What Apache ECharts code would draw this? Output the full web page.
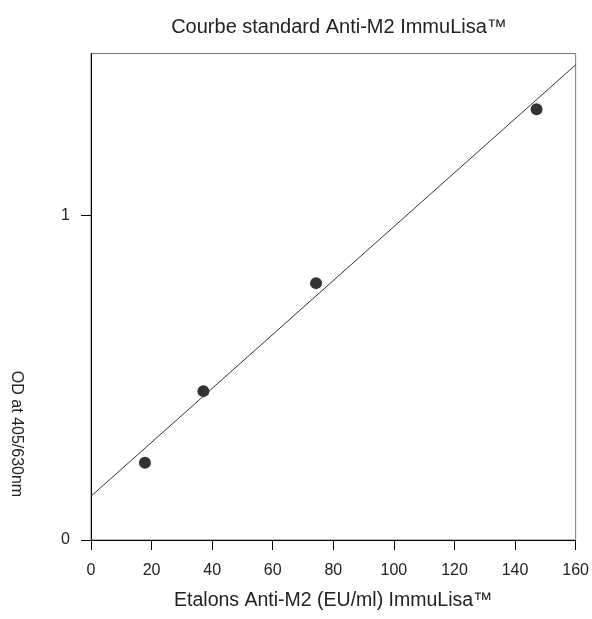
<!DOCTYPE html>
<html><head><meta charset="utf-8">
<script src="https://cdn.jsdelivr.net/npm/echarts@6/dist/echarts.min.js"></script>
<style>html,body{margin:0;padding:0;background:#fff}#c{width:592px;height:619px}</style>
</head><body><div id="c"></div>
<script>
const standardsX = [17.8, 37.1, 74.3, 147.1];
const odValues = [0.238, 0.459, 0.792, 1.328];
const fitX = [0, 160];
const fitY = [0.135, 1.465];
const xTicks = [0, 20, 40, 60, 80, 100, 120, 140, 160];
const yTicks = [0, 1];
const titleText = 'Courbe standard Anti-M2 ImmuLisa™';
const xName = 'Etalons Anti-M2 (EU/ml) ImmuLisa™';
const yName = 'OD at 405/630nm';

const font = 'Liberation Sans, Arial, sans-serif';
const chart = echarts.init(document.getElementById('c'));
chart.setOption({
  animation: false,
  title: { text: titleText, left: 334, top: 12, textAlign: 'center',
    textStyle: { fontFamily: font, fontSize: 20, fontWeight: 'normal', color: '#222' } },
  grid: { left: 91, right: 16, top: 53.5, bottom: 79, show: true, borderColor: '#777', borderWidth: 1, backgroundColor: 'transparent' },
  xAxis: {
    type: 'value', min: 0, max: 160, interval: 20,
    name: xName, nameLocation: 'middle', nameGap: 51,
    nameTextStyle: { fontFamily: font, fontSize: 19.5, color: '#222' },
    axisLine: { show: true, lineStyle: { color: '#000', width: 1 } },
    axisTick: { show: true, length: 10, inside: false, lineStyle: { color: '#000' }, customValues: xTicks },
    axisLabel: { fontFamily: font, fontSize: 16, color: '#222', margin: 23, customValues: xTicks },
    splitLine: { show: false }
  },
  yAxis: {
    type: 'value', min: 0, max: 1.5, interval: 1,
    axisLine: { show: true, lineStyle: { color: '#000', width: 1 } },
    axisTick: { show: true, length: 10, lineStyle: { color: '#000' }, customValues: yTicks },
    axisLabel: { fontFamily: font, fontSize: 16, color: '#222', margin: 21, customValues: yTicks },
    splitLine: { show: false }
  },
  graphic: [{
    type: 'text', x: 16, y: 434, rotation: -Math.PI / 2,
    style: { text: yName, fontFamily: font, fontSize: 16, fill: '#222', align: 'center', verticalAlign: 'middle' }
  }],
  series: [
    { type: 'line', data: fitX.map((x, i) => [x, fitY[i]]), symbol: 'none',
      lineStyle: { color: '#333', width: 1 }, silent: true },
    { type: 'scatter', data: standardsX.map((x, i) => [x, odValues[i]]), symbol: 'circle', symbolSize: 12,
      itemStyle: { color: '#000' } }
  ]
});
</script></body></html>
